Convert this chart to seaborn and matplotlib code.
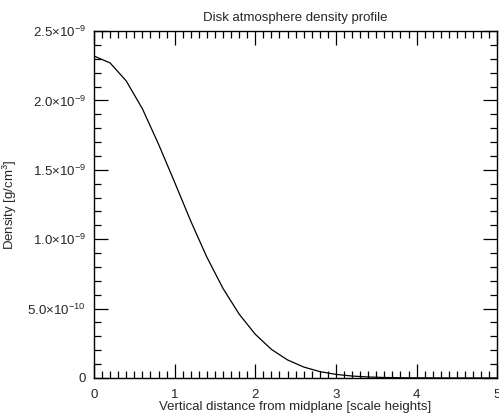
import numpy as np
import pandas as pd
import seaborn as sns
import matplotlib.pyplot as plt
from matplotlib.ticker import MultipleLocator, FuncFormatter

# heights in scale heights, density in g/cm^3
z = [0.0, 0.2, 0.4, 0.6, 0.8, 1.0, 1.2, 1.4, 1.6, 1.8, 2.0, 2.2, 2.4,
     2.6, 2.8, 3.0, 3.2, 3.4, 3.6, 3.8, 4.0, 4.5, 5.0]
rho = [2.32e-9, 2.27e-9, 2.14e-9, 1.94e-9, 1.685e-9, 1.41e-9, 1.13e-9,
       8.7e-10, 6.45e-10, 4.6e-10, 3.15e-10, 2.06e-10, 1.3e-10, 7.9e-11,
       4.6e-11, 2.6e-11, 1.4e-11, 7e-12, 3.6e-12, 1.7e-12, 8e-13, 1e-13, 0.0]

df = pd.DataFrame({"z": z, "rho": rho})

sns.set_style("ticks")
plt.rcParams['font.family'] = ['Liberation Sans', 'DejaVu Sans']
plt.rcParams['mathtext.fontset'] = 'custom'
plt.rcParams['mathtext.rm'] = 'Liberation Sans'

fig = plt.figure(figsize=(4.99, 4.19), dpi=100)
ax = fig.add_axes([0.1884, 0.0979, 0.808, 0.828])

sns.lineplot(data=df, x="z", y="rho", ax=ax, color="black", linewidth=0.9, sort=False)

ax.set_xlim(0, 5)
ax.set_ylim(0, 2.5e-9)

ax.xaxis.set_major_locator(MultipleLocator(1))
ax.xaxis.set_minor_locator(MultipleLocator(0.1))
ax.yaxis.set_major_locator(MultipleLocator(5e-10))
ax.yaxis.set_minor_locator(MultipleLocator(1e-10))

def yfmt(v, pos):
    if abs(v) < 1e-20:
        return "0"
    e = int(np.floor(np.log10(abs(v))))
    m = v / 10**e
    return r"%.1f$\times$10$^{%d}$" % (m, e)

ax.yaxis.set_major_formatter(FuncFormatter(yfmt))
ax.xaxis.set_major_formatter(FuncFormatter(lambda v, p: "%d" % v))

ax.tick_params(which="both", direction="in", top=True, right=True, labelsize=9.5, color="black")
ax.tick_params(which="major", length=10, width=0.9)
ax.tick_params(axis="x", which="major", pad=8)
ax.tick_params(axis="y", which="major", pad=6)
ax.tick_params(which="minor", length=5, width=0.9)
for s in ax.spines.values():
    s.set_linewidth(1.0)
    s.set_color("black")

ax.set_xlabel("Vertical distance from midplane [scale heights]", fontsize=9.5, labelpad=0)
ax.set_ylabel("Density [g/cm$^3$]", fontsize=9.5, labelpad=6)
ax.set_title("Disk atmosphere density profile", fontsize=9.5, pad=7)

fig.savefig("out.png", dpi=100)
